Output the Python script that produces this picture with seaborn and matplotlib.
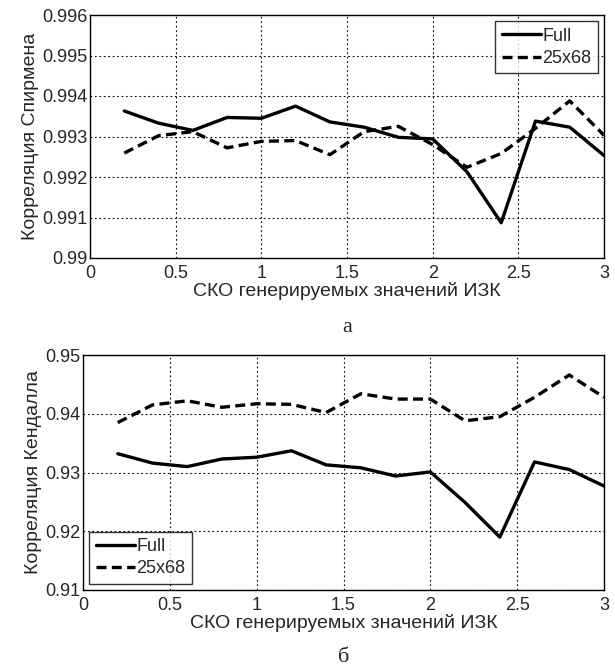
import numpy as np
import pandas as pd
import matplotlib
matplotlib.use("Agg")
import matplotlib.pyplot as plt
import seaborn as sns

# values
sko = [0.2, 0.4, 0.6, 0.8, 1.0, 1.2, 1.4, 1.6, 1.8, 2.0, 2.2, 2.4, 2.6, 2.8, 3.0]
series = ["Full", "25x68"]

spearman_full = [0.99363, 0.99333, 0.99315, 0.99347, 0.99345, 0.99375, 0.99336, 0.99323,
                 0.99298, 0.99294, 0.99213, 0.99087, 0.99338, 0.99323, 0.99253]
spearman_25x68 = [0.99259, 0.99302, 0.99312, 0.99272, 0.99288, 0.99290, 0.99255, 0.99312,
                  0.99325, 0.99280, 0.99224, 0.99258, 0.99320, 0.99388, 0.99303]

kendall_full = [0.9332, 0.9316, 0.9310, 0.9323, 0.9326, 0.9337, 0.9313, 0.9308,
                0.9294, 0.9301, 0.9249, 0.9190, 0.9318, 0.9305, 0.9277]
kendall_25x68 = [0.9385, 0.9415, 0.9422, 0.9411, 0.9417, 0.9416, 0.9402, 0.9434,
                 0.9425, 0.9425, 0.9388, 0.9395, 0.9428, 0.9466, 0.9428]

xlabel = "СКО генерируемых значений ИЗК"
xticks = [0, 0.5, 1, 1.5, 2, 2.5, 3]

sns.set_style("white")
plt.rcParams['font.family'] = ['Liberation Sans', 'DejaVu Sans']


def make_df(full, small):
    return pd.DataFrame({
        "x": sko * 2,
        "y": full + small,
        "s": [series[0]] * len(sko) + [series[1]] * len(sko),
    })


fig = plt.figure(figsize=(6.15, 6.68), dpi=100)
ax1 = fig.add_axes([90 / 615, 1 - 258 / 668, 514 / 615, 243 / 668])
ax2 = fig.add_axes([83 / 615, 1 - 590 / 668, 521 / 615, 235 / 668])

panels = [
    (ax1, make_df(spearman_full, spearman_25x68), "Корреляция Спирмена",
     (0.99, 0.996), np.arange(0.99, 0.9961, 0.001), "upper right", "а"),
    (ax2, make_df(kendall_full, kendall_25x68), "Корреляция Кендалла",
     (0.91, 0.95), np.arange(0.91, 0.9501, 0.01), "lower left", "б"),
]

for ax, df, ylab, ylim, yt, loc, cap in panels:
    sns.lineplot(data=df, x="x", y="y", style="s", color="black", linewidth=2.4,
                 dashes={"Full": "", "25x68": (3, 1.6)}, ax=ax)
    ax.set_xlim(0, 3)
    ax.set_ylim(*ylim)
    ax.set_xticks(xticks)
    ax.set_xticklabels(["%g" % v for v in xticks])
    ax.set_yticks(yt)
    ax.set_yticklabels([("%g" % round(v, 3)) for v in yt])
    ax.grid(True, color="black", linestyle=(0, (1.5, 2.5)), linewidth=0.8)
    ax.tick_params(direction="in", length=4, labelsize=13)
    ax.tick_params(axis="x", pad=5)
    ax.tick_params(axis="y", pad=2)
    for sp in ax.spines.values():
        sp.set_color("black")
        sp.set_linewidth(1.0)
    ax.set_xlabel(xlabel, fontsize=14, labelpad=0)
    ax.set_ylabel(ylab, fontsize=14, labelpad=2)
    leg = ax.legend(loc=loc, frameon=True, fancybox=False, edgecolor="black",
                    fontsize=13, handlelength=2.2, handletextpad=0.05,
                    borderaxespad=0.35, borderpad=0.35, labelspacing=0.3)
    leg.get_frame().set_linewidth(1.0)
    ax.text(0.5, -0.245, cap, transform=ax.transAxes,
            ha="center", va="top", fontsize=16, family="Liberation Serif")

fig.savefig("out.png", dpi=100)
